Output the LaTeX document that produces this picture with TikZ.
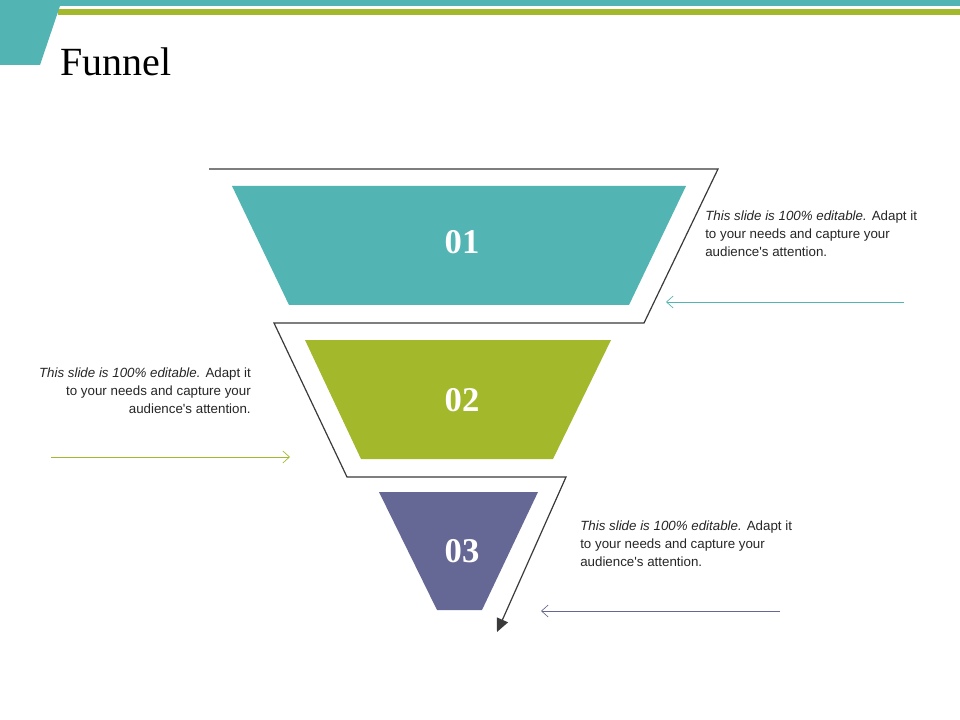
\documentclass[tikz,border=0pt]{standalone}
\usepackage{fontspec}
\setmainfont{Liberation Serif}
\newfontfamily\arial{Liberation Sans}
\usetikzlibrary{arrows.meta}
\definecolor{cteal}{HTML}{52B4B3}
\definecolor{cgreen}{HTML}{A3B82B}
\definecolor{cpurple}{HTML}{656894}
\definecolor{cline}{HTML}{3A3A3A}
\tikzset{
 num/.style={text=white,font=\bfseries\fontsize{26}{26}\selectfont},
 desc/.style={font=\arial\fontsize{10}{13.5}\selectfont,text=black!85,align=left,anchor=north west,inner sep=0},
 pointer/.style={-{Straight Barb[length=5pt,width=9pt]},line width=0.5pt}
}
\begin{document}
\begin{tikzpicture}[x=0.75pt,y=-0.75pt]
\useasboundingbox (0,0) rectangle (960,720);
\fill[white] (0,0) rectangle (960,720);
% header
\fill[cteal] (0,0) rectangle (960,6);
\fill[cgreen] (58,9) rectangle (960,15);
\fill[cteal] (0,0) -- (62,0) -- (40,65) -- (0,65) -- cycle;
\node[anchor=base west,inner sep=0,font=\fontsize{30}{30}\selectfont] (title) at (60,76) {Funnel};
% zigzag
\coordinate (z0) at (209,169);
\coordinate (z1) at (718,169);
\coordinate (z2) at (644,323);
\coordinate (z3) at (274,323);
\coordinate (z4) at (347,477);
\coordinate (z5) at (566,477);
\coordinate (z6) at (497,632);
\draw[cline,line width=0.9pt,-{Triangle[length=10pt,width=9pt]}] (z0)--(z1)--(z2)--(z3)--(z4)--(z5)--(z6);
% funnel pieces
\fill[cteal] (232,186) -- (686,186) -- (629,305) -- (289,305) -- cycle;
\fill[cgreen] (305,340) -- (611,340) -- (553,459) -- (361,459) -- cycle;
\fill[cpurple] (379,492) -- (538,492) -- (482,610) -- (437,610) -- cycle;
\node[num] (n1) at (462,242) {01};
\node[num] (n2) at (462,400) {02};
\node[num] (n3) at (462,551) {03};
% descriptions
\node[desc] (d1) at (705,211) {\textit{This slide is 100\% editable.} Adapt it\\to your needs and capture your\\audience's attention.};
\node[desc,align=right,anchor=north east] (d2) at (251,368) {\textit{This slide is 100\% editable.} Adapt it\\to your needs and capture your\\audience's attention.};
\node[desc] (d3) at (580,521) {\textit{This slide is 100\% editable.} Adapt it\\to your needs and capture your\\audience's attention.};
% pointers
\coordinate (a1s) at (904,302); \coordinate (a1e) at (666,302);
\coordinate (a2s) at (51,457); \coordinate (a2e) at (290,457);
\coordinate (a3s) at (780,611); \coordinate (a3e) at (541,611);
\draw[pointer,cteal] (a1s) -- (a1e);
\draw[pointer,cgreen] (a2s) -- (a2e);
\draw[pointer,cpurple] (a3s) -- (a3e);
\end{tikzpicture}
\end{document}
